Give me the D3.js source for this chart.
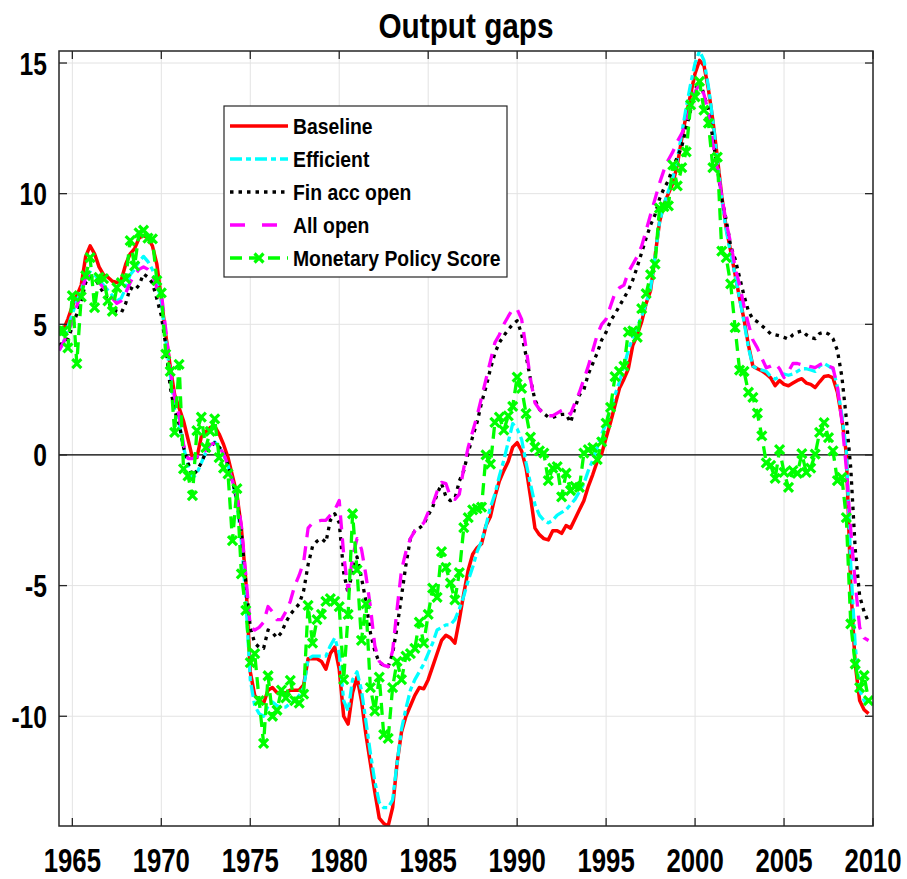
<!DOCTYPE html>
<html>
<head>
<meta charset="utf-8">
<script src="https://cdn.jsdelivr.net/npm/d3@7"></script>
<style>
  body { margin: 0; background: #fff; }
  svg text { font-family: "Liberation Sans", Arial, sans-serif; font-weight: bold; fill: #000; }
</style>
</head>
<body>
<div id="chart"></div>
<script>
// quarterly data, 1964.25 .. 2009.75
const startYear = 1964.25;
const xTicks = [1965, 1970, 1975, 1980, 1985, 1990, 1995, 2000, 2005, 2010];
const yTicks = [-10, -5, 0, 5, 10, 15];

const baseline = [
  4.7, 4.8, 5.2,
  5.7, 6.1, 6.5, 7.6,   8.0, 7.7, 7.2, 6.9,   6.8, 6.65, 6.6, 6.7,   7.3, 7.7, 7.9, 8.3,   8.4, 8.3, 8.0, 7.3,
  6.0, 4.6, 3.4, 2.3,   1.8, 1.3, 0.6, -0.1,  -0.1, 0.7, 0.9, 1.05,  1.1, 0.8, 0.4, -0.1,  -0.8, -1.5, -2.8, -4.8,
  -8.3, -9.2, -9.4, -9.5,  -9.0, -8.9, -9.1, -9.1,  -9.1, -9.0, -9.0, -9.0,  -8.8, -7.8, -7.8, -7.8,  -7.9, -8.2, -7.6, -7.35,
  -8.2, -10.0, -10.3, -9.1,  -8.5, -9.4, -10.7, -11.8,  -12.9, -13.9, -14.1, -14.2,  -13.5, -11.8, -10.6, -10.0,  -9.6, -9.2, -8.9, -8.95,
  -8.6, -8.1, -7.6, -7.1,  -6.9, -7.0, -7.2, -6.3,  -5.3, -4.4, -3.8, -3.55,  -3.4, -2.7, -2.35, -1.6,  -1.0, -0.6, -0.25, 0.3,
  0.47, 0.15, -0.5, -1.6,  -2.8, -3.05, -3.2, -3.25,  -2.9, -2.9, -3.0, -2.7,  -2.8, -2.45, -2.1, -1.75,  -1.2, -0.75, -0.25, 0.05,
  0.66, 1.25, 1.9, 2.55,  2.9, 3.3, 4.2, 4.6,  5.1, 5.8, 6.3, 7.6,  8.9, 9.6, 10.0, 10.4,  11.1, 12.1, 13.0, 13.8,
  14.6, 15.1, 14.9, 14.0,  12.8, 11.4, 9.9, 8.7,  7.8, 6.9, 6.0, 5.2,  4.2, 3.4, 3.3, 3.22,  3.1, 2.95, 2.65, 2.85,
  2.7, 2.65, 2.75, 2.85,  2.92, 2.75, 2.7, 2.58,  2.8, 3.0, 3.03, 2.95,  2.4, 1.4, 0.05, -5.0,  -8.0, -9.4, -9.75, -9.9
];

const efficient = [
  4.0, 4.3, 4.9,
  5.4, 5.9, 6.3, 6.9,   7.0, 6.9, 6.7, 6.5,   6.3, 6.1, 5.9, 6.0,   6.4, 6.9, 7.1, 7.4,   7.6, 7.4, 7.1, 6.6,
  5.9, 4.4, 3.1, 1.7,   1.2, 0.3, -0.4, -0.9,  -0.7, -0.3, 0.1, 0.4,  0.5, 0.3, 0.0, -0.4,  -1.0, -1.8, -3.3, -5.5,
  -8.6, -9.6, -9.9, -10.0,  -9.6, -9.45, -9.6, -9.65,  -9.65, -9.5, -9.4, -9.2,  -8.9, -7.8, -7.7, -7.7,  -7.7, -7.7, -7.3, -7.0,
  -7.6, -9.4, -9.8, -8.6,  -8.3, -9.0, -10.2, -11.4,  -12.5, -13.3, -13.5, -13.5,  -13.2, -11.8, -10.5, -9.7,  -9.0, -8.6, -8.3, -8.0,
  -7.6, -7.2, -6.7, -6.6,  -6.5, -6.5, -6.3, -5.9,  -5.4, -4.8, -4.3, -3.7,  -3.3, -2.7, -2.0, -1.5,  -0.8, -0.2, 0.5, 1.2,
  1.0, 0.6, -0.3, -1.1,  -1.9, -2.3, -2.5, -2.6,  -2.5, -2.3, -2.2, -2.1,  -1.9, -1.7, -1.4, -1.1,  -0.6, -0.2, 0.3, 0.8,
  1.2, 1.8, 2.3, 2.8,  3.4, 4.0, 4.5, 4.9,  5.3, 5.8, 6.4, 7.6,  8.9, 9.6, 10.1, 10.6,  11.3, 12.3, 13.3, 14.2,
  15.0, 15.46, 15.1, 14.1,  12.8, 11.3, 9.8, 8.6,  7.7, 6.9, 6.0, 5.1,  4.1, 3.4, 3.3, 3.25,  3.2, 3.0, 2.9, 3.0,
  3.1, 3.05, 3.1, 3.2,  3.3, 3.3, 3.25, 3.2,  3.4, 3.5, 3.4, 3.3,  2.6, 1.5, 0.2, -4.2,  -7.3, -9.0, -9.4, -9.6
];

const finAccOpen = [
  4.2, 4.3, 4.45,
  4.9, 5.4, 5.9, 6.6,   6.8, 6.77, 6.5, 6.2,   5.9, 5.6, 5.5, 5.44,   5.8, 6.4, 6.3, 6.5,   6.93, 6.8, 6.58, 5.98,
  5.33, 4.2, 2.6, 1.7,   1.2, 0.3, -0.3, -0.8,  -0.6, -0.3, 0.1, 0.3,  0.47, 0.3, 0.1, -0.4,  -1.0, -1.7, -3.0, -4.9,
  -6.6, -7.2, -7.36, -7.4,  -6.7, -6.8, -7.0, -6.8,  -6.4, -6.1, -5.9, -5.7,  -5.2, -4.2, -3.5, -3.3,  -3.2, -3.35, -2.5, -2.25,
  -2.6, -4.5, -5.3, -4.4,  -3.9, -4.7, -5.6, -6.8,  -7.5, -7.95, -8.05, -8.1,  -7.6, -6.6, -5.4, -4.2,  -3.2, -2.9, -2.8, -2.65,
  -2.3, -2.0, -1.5, -1.1,  -1.6, -1.75, -1.67, -1.0,  -0.6, 0.1, 0.7, 1.25,  2.0, 2.6, 3.3, 3.9,  4.3, 4.56, 4.8, 5.0,
  5.14, 4.63, 3.8, 2.9,  2.1, 1.75, 1.58, 1.45,  1.43, 1.5, 1.55, 1.56,  1.24, 1.8, 2.3, 2.5,  3.1, 3.5, 3.9, 4.4,
  4.7, 5.14, 5.4, 5.7,  6.0, 6.3, 6.7, 7.2,  7.75, 8.3, 8.8, 9.2,  9.8, 10.2, 10.5, 11.0,  11.4, 11.8, 12.5, 13.2,
  14.0, 14.3, 13.8, 13.2,  12.1, 11.0, 9.8, 9.0,  8.0, 7.5, 6.8, 6.1,  5.5, 5.2, 5.1, 4.95,  4.8, 4.63, 4.6, 4.56,
  4.5, 4.43, 4.6, 4.7,  4.75, 4.6, 4.5, 4.45,  4.65, 4.7, 4.63, 4.45,  4.0, 3.0, 1.4, -0.5,  -3.6, -5.4, -6.0, -6.4
];

const allOpen = [
  4.0, 4.3, 4.7,
  5.1, 5.7, 6.2, 6.8,   6.9, 6.75, 6.6, 6.4,   6.3, 6.0, 5.8, 5.9,   6.2, 6.6, 6.9, 7.1,   7.2, 7.1, 6.9, 6.4,
  6.2, 4.8, 3.3, 2.2,   1.5, 0.4, -0.14, -0.14,  -0.05, -0.1, 0.2, 0.4,  0.45, 0.3, 0.05, -0.4,  -1.0, -1.6, -2.7, -4.6,
  -6.6, -6.7, -6.6, -6.4,  -5.8, -6.0, -6.3, -6.3,  -6.0, -5.6, -5.0, -4.6,  -4.1, -2.8, -2.6, -2.55,  -2.5, -2.5, -2.3, -2.1,
  -1.74, -3.8, -5.2, -3.9,  -3.2, -3.6, -4.6, -5.8,  -7.3, -7.9, -8.05, -8.1,  -7.5, -5.9, -4.4, -3.7,  -3.2, -2.9, -2.75, -2.6,
  -2.2, -1.9, -1.4, -1.05,  -1.1, -1.6, -1.7, -1.5,  -0.5, 0.3, 0.9, 1.5,  2.2, 2.9, 3.6, 4.3,  4.6, 5.0, 5.3, 5.58,
  5.58, 5.2, 4.1, 2.9,  2.0, 1.75, 1.55, 1.5,  1.5, 1.6, 1.7, 1.77,  1.56, 2.0, 2.4, 2.9,  3.4, 4.0, 4.6, 5.0,
  5.2, 5.7, 6.2, 6.4,  6.5, 7.0, 7.3, 7.6,  8.0, 8.6, 9.2, 9.8,  10.4, 10.9, 11.3, 11.6,  12.0, 12.3, 12.7, 13.3,
  13.9, 14.2, 13.8, 13.1,  11.9, 11.0, 9.9, 8.9,  8.1, 7.2, 6.5, 5.7,  5.0, 4.4, 4.1, 3.7,  3.34, 3.4, 3.5, 3.3,
  2.96, 3.2, 3.5, 3.5,  3.45, 3.42, 3.38, 3.34,  3.45, 3.53, 3.4, 3.34,  2.6, 1.3, -0.5, -2.9,  -4.9, -6.6, -7.0, -7.1
];

const monetaryPolicy = [
  4.75, 4.75, 4.1,
  6.1, 3.5, 6.05, 6.86,   7.55, 5.64, 6.8, 6.75,   5.9, 5.5, 6.4, 6.6,   6.75, 8.2, 7.24, 8.5,   8.6, 8.3, 8.27, 6.67,
  6.2, 3.86, 3.2, 0.86,   3.47, -0.53, -0.8, -1.56,  0.93, 1.45, 0.28, 0.9,  1.38, -0.1, -0.5, -0.72,  -3.28, -1.29, -4.55, -5.95,
  -7.95, -7.6, -9.4, -11.04,  -8.45, -10.0, -9.77, -9.0,  -9.3, -8.63, -9.4, -9.5,  -9.15, -5.76, -7.2, -6.3,  -6.1, -5.6, -5.5, -5.6,
  -5.8, -8.6, -6.1, -2.25,  -4.4, -7.1, -5.7, -8.9,  -9.8, -8.5, -10.7, -10.85,  -8.9, -7.9, -8.6, -7.7,  -7.6, -7.4, -6.4, -7.2,
  -6.1, -5.1, -5.45, -3.7,  -4.3, -4.9, -5.55, -4.5,  -2.78, -2.4, -2.1, -2.05,  -2.0, 0.0, -0.35, 1.25,  1.45, 0.95, 1.5, 1.86,
  2.98, 2.55, 1.58, 0.68,  0.3, 0.16, 0.07, -0.98,  -0.5, -0.45, -1.6, -0.7,  -1.36, -1.2, -1.24, 0.07,  0.2, 0.28, -0.18, 0.5,
  1.22, 1.82, 3.0, 3.2,  3.4, 4.7, 4.75, 4.5,  5.6, 6.17, 6.9, 7.3,  9.45, 9.5, 9.53, 11.1,  10.3, 11.0, 11.6, 13.4,
  13.7, 14.3, 13.2, 12.7,  11.0, 11.4, 7.8, 7.55,  6.55, 4.87, 3.25, 3.2,  2.4, 2.2, 1.6, 0.73,  -0.3, -0.4, -0.9, 0.2,
  -0.67, -1.24, -0.6, -0.7,  0.05, -0.67, -0.5, 0.03,  0.86, 1.24, 0.66, 0.16,  -0.98, -0.86, -2.4, -6.46,  -8.0, -8.9, -8.44, -9.4
];

const seriesNames = ["Baseline", "Efficient", "Fin acc open", "All open", "Monetary Policy Score"];
const seriesValues = [baseline, efficient, finAccOpen, allOpen, monetaryPolicy];
const seriesColors = ["#ff0000", "#00ffff", "#000000", "#ff00ff", "#00ff00"];
const seriesDash = [null, "12,4,5,4", "3.5,5", "14,9", "12,7"];

const width = 907, height = 879;
const m = { left: 59, right: 873, top: 51, bottom: 826 };

const x = d3.scaleLinear().domain([1964.25, 2010]).range([m.left, m.right]);
const y = d3.scaleLinear().domain([-14.2, 15.46]).range([m.bottom, m.top]);

const svg = d3.select("#chart").append("svg")
    .attr("width", width)
    .attr("height", height);

// condensed bold text (no narrow font installed, so squeeze horizontally)
function label(g, tx, ty, str, size, sx, anchor, dy) {
    return g.append("text")
        .attr("transform", `translate(${tx},${ty}) scale(${sx},1)`)
        .attr("text-anchor", anchor)
        .attr("dy", dy || 0)
        .style("font-size", size + "px")
        .text(str);
}

svg.append("defs").append("clipPath").attr("id", "plotclip")
    .append("rect")
    .attr("x", m.left).attr("y", m.top)
    .attr("width", m.right - m.left).attr("height", m.bottom - m.top);

// grid
svg.append("g").selectAll("line").data(xTicks).enter().append("line")
    .attr("x1", d => x(d)).attr("x2", d => x(d))
    .attr("y1", m.top).attr("y2", m.bottom)
    .attr("stroke", "#e3e3e3").attr("stroke-width", 1);
svg.append("g").selectAll("line").data(yTicks).enter().append("line")
    .attr("x1", m.left).attr("x2", m.right)
    .attr("y1", d => y(d)).attr("y2", d => y(d))
    .attr("stroke", "#e3e3e3").attr("stroke-width", 1);

// zero line
svg.append("line")
    .attr("x1", m.left).attr("x2", m.right)
    .attr("y1", y(0)).attr("y2", y(0))
    .attr("stroke", "#000").attr("stroke-width", 1.3);

// series
let plot = svg.append("g").attr("clip-path", "url(#plotclip)");
let line = d3.line()
    .x((d, i) => x(startYear + i * 0.25))
    .y(d => y(d));

seriesValues.forEach(function(vals, k) {
    plot.append("path")
        .attr("d", line(vals))
        .attr("fill", "none")
        .attr("stroke", seriesColors[k])
        .attr("stroke-width", k === 0 ? 3.5 : 3.3)
        .attr("stroke-dasharray", seriesDash[k])
        .attr("stroke-linecap", "butt")
        .attr("stroke-linejoin", "round");
});

// x markers for monetary policy score
function cross(g, cx, cy, s) {
    g.append("path")
        .attr("d", `M${cx - s},${cy - s}L${cx + s},${cy + s}M${cx - s},${cy + s}L${cx + s},${cy - s}`)
        .attr("stroke", "#00ff00").attr("stroke-width", 3.2).attr("fill", "none");
}
let marks = plot.append("g");
monetaryPolicy.forEach(function(v, i) {
    cross(marks, x(startYear + i * 0.25), y(v), 4.5);
});

// frame
svg.append("rect")
    .attr("x", m.left).attr("y", m.top)
    .attr("width", m.right - m.left).attr("height", m.bottom - m.top)
    .attr("fill", "none").attr("stroke", "#262626").attr("stroke-width", 1.5);

// ticks (inside, mirrored)
let tl = 8;
let tk = svg.append("g").attr("stroke", "#262626").attr("stroke-width", 1.3);
xTicks.forEach(function(t) {
    tk.append("line").attr("x1", x(t)).attr("x2", x(t)).attr("y1", m.bottom).attr("y2", m.bottom - tl);
    tk.append("line").attr("x1", x(t)).attr("x2", x(t)).attr("y1", m.top).attr("y2", m.top + tl);
});
yTicks.forEach(function(t) {
    tk.append("line").attr("x1", m.left).attr("x2", m.left + tl).attr("y1", y(t)).attr("y2", y(t));
    tk.append("line").attr("x1", m.right).attr("x2", m.right - tl).attr("y1", y(t)).attr("y2", y(t));
});

// tick labels
let xl = svg.append("g");
xTicks.forEach(t => label(xl, x(t), 872, t, 33, 0.78, "middle"));
let yl = svg.append("g");
yTicks.forEach(t => label(yl, 47, y(t), t, 32, 0.77, "end", "0.36em"));

// title
label(svg, (m.left + m.right) / 2, 38, "Output gaps", 35, 0.85, "middle");

// legend
let lg = svg.append("g");
lg.append("rect")
    .attr("x", 224).attr("y", 106)
    .attr("width", 283).attr("height", 171)
    .attr("fill", "#fff").attr("stroke", "#262626").attr("stroke-width", 1.2);
seriesNames.forEach(function(name, k) {
    let ly = 126 + k * 33;
    lg.append("line")
        .attr("x1", 230).attr("x2", 288)
        .attr("y1", ly).attr("y2", ly)
        .attr("stroke", seriesColors[k])
        .attr("stroke-width", 3.5)
        .attr("stroke-dasharray", k === 3 ? "15,17" : seriesDash[k]);
    if (k === 4) cross(lg, 259, ly, 4.5);
    label(lg, 293, ly, name, 22, 0.88, "start", "0.36em");
});
</script>
</body>
</html>
